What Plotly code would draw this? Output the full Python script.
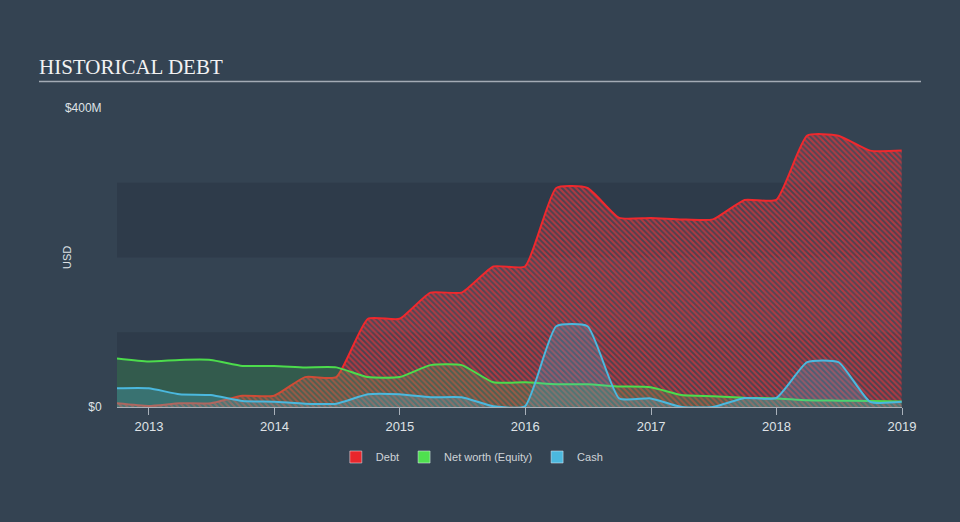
import plotly.graph_objects as go

dates = ["2012-09-30", "2012-12-31",
         "2013-03-31", "2013-06-30", "2013-09-30", "2013-12-31",
         "2014-03-31", "2014-06-30", "2014-09-30", "2014-12-31",
         "2015-03-31", "2015-06-30", "2015-09-30", "2015-12-31",
         "2016-03-31", "2016-06-30", "2016-09-30", "2016-12-31",
         "2017-03-31", "2017-06-30", "2017-09-30", "2017-12-31",
         "2018-03-31", "2018-06-30", "2018-09-30", "2018-12-31"]

debt = [5, 1.5, 5, 5, 15, 15, 40, 40, 118, 118, 153, 153, 188, 188,
        293, 293, 253, 253, 251, 251, 277, 277, 363, 363, 343, 343]
equity = [65, 61, 63, 63, 55, 55, 53, 53, 40, 40, 56, 56, 33, 33,
          30.5, 30.5, 27.5, 26.5, 16, 14.5, 12.5, 11.5, 9, 8.5, 8, 7.5]
cash = [25, 25, 17, 16, 8, 7, 4.5, 4.5, 17, 17, 13, 13, 1, 1,
        108, 108, 11.5, 11.5, 0, 0, 12, 12, 60, 60, 7, 7]

year_ticks = ["2013-01-01", "2014-01-01", "2015-01-01", "2016-01-01",
              "2017-01-01", "2018-01-01", "2019-01-01"]
year_labels = ["2013", "2014", "2015", "2016", "2017", "2018", "2019"]

band_ranges = [(0, 100), (200, 300)]

BG = "#344352"
BAND = "#2e3b4a"
RED = "#f0282d"
GREEN = "#4cdc4c"
BLUE = "#4bb8de"
SANS = "Liberation Sans, Arial, sans-serif"
SMOOTH = 0.5

fig = go.Figure()

fig.add_trace(go.Scatter(
    x=dates, y=debt, mode="lines", name="Debt", showlegend=False,
    line=dict(color=RED, width=2, shape="spline", smoothing=SMOOTH),
    fill="tozeroy", fillcolor="rgba(0,0,0,0)",
    fillpattern=dict(shape="\\", fgcolor="#cf363c", fgopacity=0.78,
                     bgcolor="rgba(135,78,92,0.35)", size=4, solidity=0.5),
    hoverinfo="skip"))
fig.add_trace(go.Scatter(
    x=dates, y=equity, mode="lines", name="Net worth (Equity)", showlegend=False,
    line=dict(color=GREEN, width=2, shape="spline", smoothing=SMOOTH),
    fill="tozeroy", fillcolor="rgba(76,220,90,0.2)",
    hoverinfo="skip"))
fig.add_trace(go.Scatter(
    x=dates, y=cash, mode="lines", name="Cash", showlegend=False,
    line=dict(color=BLUE, width=2, shape="spline", smoothing=SMOOTH),
    fill="tozeroy", fillcolor="rgba(75,184,224,0.25)",
    hoverinfo="skip"))

for nm, col in [("Debt", "#e8262c"), ("Net worth (Equity)", "#4fe04f"), ("Cash", "#4bb8de")]:
    fig.add_trace(go.Bar(x=[None], y=[None], name=nm, marker=dict(color=col),
                         showlegend=True))

shapes = []
for lo, hi in band_ranges:
    shapes.append(dict(type="rect", xref="paper", yref="y", x0=0, x1=1,
                       y0=lo, y1=hi, fillcolor=BAND, line=dict(width=0),
                       layer="below"))
shapes.append(dict(type="line", xref="paper", yref="paper",
                   x0=(39 - 117) / 785, x1=(921 - 117) / 785,
                   y0=(407 - 81.5) / 299, y1=(407 - 81.5) / 299,
                   line=dict(color="#a3abb5", width=1.5)))

fig.update_layout(
    width=960, height=522,
    paper_bgcolor=BG, plot_bgcolor=BG,
    margin=dict(l=117, r=58, t=108, b=115),
    title=dict(text="HISTORICAL DEBT", x=39 / 960, xanchor="left",
               y=1 - 67 / 522, yanchor="middle", xref="container", yref="container",
               font=dict(family="Liberation Serif, Times New Roman, serif",
                         size=21, color="#f2f2f2")),
    shapes=shapes,
    showlegend=True,
    legend=dict(orientation="h", x=0.452, xanchor="center",
                y=(407 - 457) / 299, yanchor="middle",
                font=dict(family=SANS, size=11, color="#cfd3d8"),
                bgcolor="rgba(0,0,0,0)"),
    xaxis=dict(type="date", range=["2012-09-30", "2019-01-01"],
               tickvals=year_ticks, ticktext=year_labels,
               showgrid=False, zeroline=False,
               showline=True, linecolor="#a9b1ba", linewidth=1,
               ticks="outside", ticklen=7, tickcolor="#a9b1ba",
               tickfont=dict(family=SANS, size=13, color="#dfe2e6")),
    yaxis=dict(range=[0, 400], tickvals=[0, 400], ticktext=["$0", "$400M"],
               showgrid=False, zeroline=False, showline=False,
               ticks="outside", ticklen=12, tickcolor="rgba(0,0,0,0)",
               tickfont=dict(family=SANS, size=12, color="#dfe2e6")),
    annotations=[dict(text="USD", xref="paper", yref="paper",
                      x=(67 - 117) / 785, y=(407 - 258) / 299,
                      xanchor="center", yanchor="middle", textangle=-90,
                      showarrow=False,
                      font=dict(family=SANS, size=11, color="#dfe2e6"))],
)

fig.write_html("out.html")
